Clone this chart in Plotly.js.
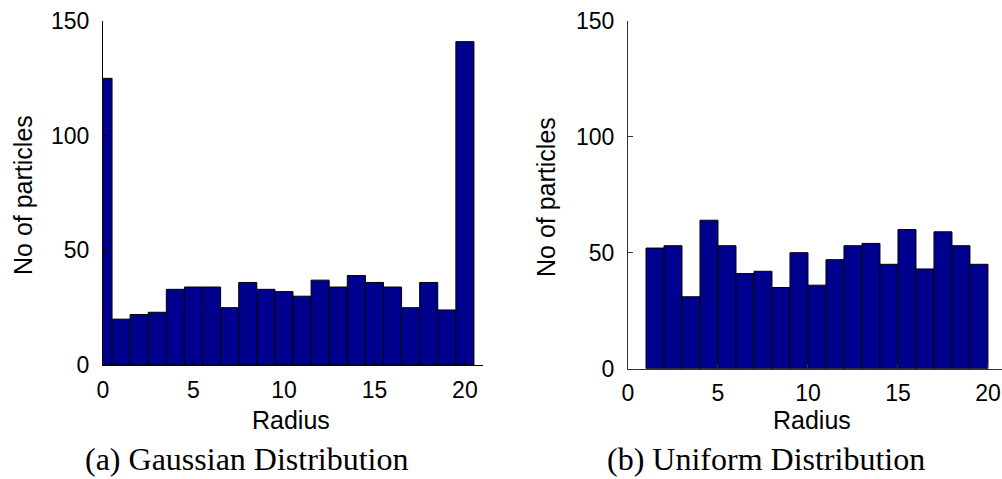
<!DOCTYPE html>
<html>
<head>
<meta charset="utf-8">
<script src="https://cdn.plot.ly/plotly-3.0.1.min.js"></script>
<style>html,body{margin:0;padding:0;background:#fff;}#chart{width:1002px;height:479px;}</style>
</head>
<body>
<div id="chart"></div>
<script>
// Panel (a): Gaussian distribution histogram
var gaussRadius = [0,1,2,3,4,5,6,7,8,9,10,11,12,13,14,15,16,17,18,19,20];
var gaussCounts = [125,20,22,23,33,34,34,25,36,33,32,30,37,34,39,36,34,25,36,24,141];
// Panel (b): Uniform distribution histogram
var unifRadius = [1.5,2.5,3.5,4.5,5.5,6.5,7.5,8.5,9.5,10.5,11.5,12.5,13.5,14.5,15.5,16.5,17.5,18.5,19.5];
var unifCounts = [52,53,31,64,53,41,42,35,50,36,47,53,54,45,60,43,59,53,45];
var xTicks = [0,5,10,15,20];
var yTicks = [0,50,100,150];
var yTitle = "No of particles";
var xTitle = "Radius";
var captions = ["(a) Gaussian Distribution", "(b) Uniform Distribution"];

var W = 1002, H = 479;
var barColor = "#00008F";
var sans = "Liberation Sans, Arial, sans-serif";
var serif = "Liberation Serif, Times New Roman, serif";

var traces = [
  {type:"bar", x:gaussRadius, y:gaussCounts, width:1, xaxis:"x", yaxis:"y",
   marker:{color:barColor, line:{color:"#000", width:1}}, hoverinfo:"x+y"},
  {type:"bar", x:unifRadius, y:unifCounts, width:1, xaxis:"x2", yaxis:"y2",
   marker:{color:barColor, line:{color:"#000", width:1}}, hoverinfo:"x+y"}
];

function px(v){return v/W;}
function py(v){return 1 - v/H;}

var axisCommon = {
  showgrid:false, zeroline:false, showline:true, linecolor:"#000", linewidth:1,
  ticks:"inside", ticklen:5, tickcolor:"#000", tickwidth:1,
  tickfont:{family:sans, size:23, color:"#000"}, fixedrange:true
};

function xa(domain, range, anchor){
  return Object.assign({}, axisCommon, {domain:domain, range:range, anchor:anchor,
    tickmode:"array", tickvals:xTicks, ticktext:xTicks.map(String), ticklabelstandoff:4});
}
function ya(domain, anchor){
  return Object.assign({}, axisCommon, {domain:domain, range:[0,150], anchor:anchor,
    tickmode:"array", tickvals:yTicks, ticktext:yTicks.map(String), ticklabelstandoff:8});
}

var ann = [];
function addText(t, x, y, size, fam, angle){
  ann.push({text:t, xref:"paper", yref:"paper", x:px(x), y:py(y), xanchor:"center", yanchor:"middle",
    showarrow:false, textangle:angle||0, font:{family:fam, size:size, color:"#000"}});
}
addText(yTitle, 23, 195, 25, sans, -90);
addText(yTitle, 546, 197, 25, sans, -90);
addText(xTitle, 291, 420, 25, sans);
addText(xTitle, 812, 420, 25, sans);
addText(captions[0], 247, 459, 32, serif);
addText(captions[1], 766, 459, 32, serif);

var layout = {
  width:W, height:H, margin:{l:0,r:0,t:0,b:0}, showlegend:false,
  paper_bgcolor:"#fff", plot_bgcolor:"#fff", bargap:0,
  xaxis: xa([px(103), px(483)], [0,21], "y"),
  yaxis: ya([py(365), py(21)], "x"),
  xaxis2: Object.assign(xa([px(628), 1], [0,20.78], "y2"), {linecolor:"#333", tickcolor:"#333"}),
  yaxis2: Object.assign(ya([py(368.7), py(20.7)], "x2"), {linecolor:"#333", tickcolor:"#333"}),
  annotations: ann
};

Plotly.newPlot("chart", traces, layout, {displayModeBar:false, staticPlot:true});
</script>
</body>
</html>
